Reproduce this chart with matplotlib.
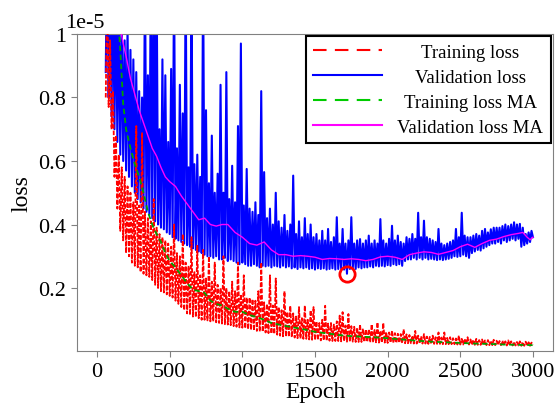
"""Training / validation loss curves with moving averages (loss in units of 1e-5)."""

import matplotlib as mpl

mpl.use("Agg")
import matplotlib.pyplot as plt
import numpy as np

# raw losses, one value every 10 epochs (60 .. 3000)
epochs = np.arange(60, 3001, 10)

train_loss = [
    0.80, 1.15, 0.77, 0.98, 0.70, 0.82, 0.55, 0.68, 0.45, 0.62,
    0.38, 0.58, 0.35, 0.55, 0.31, 0.52, 0.30, 0.50, 0.28, 0.47,
    0.27, 0.71, 0.265, 0.46, 0.25, 0.69, 0.245, 0.44, 0.24, 0.42,
    0.235, 0.41, 0.225, 0.48, 0.21, 0.39, 0.20, 0.37, 0.19, 0.36,
    0.186, 0.35, 0.18, 0.34, 0.175, 0.33, 0.17, 0.40, 0.16, 0.31,
    0.15, 0.30, 0.14, 0.37, 0.13, 0.28, 0.12, 0.27, 0.115, 0.36,
    0.11, 0.25, 0.108, 0.333, 0.105, 0.24, 0.10, 0.32, 0.10, 0.23,
    0.098, 0.30, 0.095, 0.22, 0.095, 0.28, 0.092, 0.21, 0.09, 0.20,
    0.088, 0.30, 0.086, 0.20, 0.085, 0.19, 0.083, 0.22, 0.08, 0.19,
    0.078, 0.28, 0.076, 0.18, 0.075, 0.24, 0.073, 0.17, 0.07, 0.17,
    0.068, 0.165, 0.066, 0.16, 0.065, 0.19, 0.063, 0.28, 0.062, 0.155,
    0.06, 0.15, 0.058, 0.24, 0.056, 0.145, 0.055, 0.23, 0.053, 0.14,
    0.05, 0.13, 0.048, 0.19, 0.047, 0.125, 0.046, 0.144, 0.045, 0.12,
    0.044, 0.11, 0.042, 0.14, 0.041, 0.105, 0.04, 0.145, 0.04, 0.10,
    0.038, 0.13, 0.037, 0.14, 0.036, 0.095, 0.036, 0.09, 0.035, 0.10,
    0.035, 0.144, 0.034, 0.088, 0.034, 0.09, 0.033, 0.085, 0.033, 0.095,
    0.033, 0.113, 0.032, 0.124, 0.032, 0.082, 0.031, 0.118, 0.031, 0.08,
    0.031, 0.078, 0.03, 0.075, 0.03, 0.085, 0.03, 0.072, 0.03, 0.07,
    0.03, 0.07, 0.029, 0.086, 0.029, 0.068, 0.029, 0.092, 0.028, 0.065,
    0.028, 0.09, 0.028, 0.062, 0.027, 0.06, 0.028, 0.066, 0.027, 0.058,
    0.027, 0.056, 0.027, 0.055, 0.026, 0.07, 0.026, 0.054, 0.026, 0.052,
    0.026, 0.05, 0.025, 0.065, 0.025, 0.05, 0.025, 0.048, 0.025, 0.055,
    0.025, 0.047, 0.024, 0.046, 0.024, 0.05, 0.024, 0.045, 0.024, 0.06,
    0.024, 0.044, 0.023, 0.06, 0.023, 0.043, 0.023, 0.045, 0.023, 0.042,
    0.023, 0.041, 0.022, 0.05, 0.022, 0.04, 0.022, 0.04, 0.022, 0.045,
    0.022, 0.038, 0.021, 0.037, 0.021, 0.04, 0.021, 0.036, 0.021, 0.038,
    0.021, 0.035, 0.02, 0.036, 0.02, 0.034, 0.02, 0.037, 0.02, 0.034,
    0.02, 0.033, 0.02, 0.034, 0.019, 0.032, 0.019, 0.035, 0.019, 0.032,
    0.019, 0.031, 0.019, 0.03, 0.019, 0.032, 0.018, 0.03, 0.018, 0.031,
    0.018, 0.029, 0.018, 0.028, 0.02,
]

val_loss = [
    0.88, 1.30, 0.80, 1.25, 0.74, 1.20, 0.70, 1.15, 0.66, 1.10,
    0.62, 1.05, 0.60, 0.98, 0.57, 1.02, 0.55, 0.95, 0.52, 0.92,
    0.50, 0.88, 0.48, 0.82, 0.47, 0.80, 0.45, 1.20, 0.44, 0.87,
    0.43, 1.20, 0.42, 1.20, 0.41, 1.20, 0.40, 0.70, 0.39, 0.92,
    0.385, 0.87, 0.375, 0.66, 0.37, 0.89, 0.36, 1.20, 0.355, 0.64,
    0.35, 0.84, 0.345, 0.75, 0.34, 1.20, 0.335, 0.58, 0.33, 1.20,
    0.325, 0.59, 0.32, 0.62, 0.315, 0.55, 0.31, 1.20, 0.305, 0.76,
    0.30, 0.53, 0.30, 0.68, 0.295, 0.50, 0.30, 0.56, 0.29, 0.84,
    0.29, 0.50, 0.295, 0.88, 0.285, 0.48, 0.29, 0.585, 0.285, 0.47,
    0.28, 0.71, 0.275, 0.97, 0.28, 0.46, 0.275, 0.575, 0.27, 0.45,
    0.27, 0.44, 0.275, 0.47, 0.27, 0.43, 0.265, 0.82, 0.27, 0.565,
    0.268, 0.42, 0.27, 0.45, 0.265, 0.40, 0.27, 0.50, 0.268, 0.41,
    0.265, 0.39, 0.27, 0.43, 0.265, 0.38, 0.268, 0.40, 0.262, 0.554,
    0.265, 0.37, 0.26, 0.41, 0.265, 0.36, 0.262, 0.42, 0.265, 0.37,
    0.26, 0.40, 0.262, 0.36, 0.258, 0.37, 0.262, 0.35, 0.26, 0.38,
    0.262, 0.35, 0.258, 0.386, 0.26, 0.345, 0.262, 0.36, 0.258, 0.423,
    0.26, 0.34, 0.262, 0.386, 0.258, 0.34, 0.245, 0.35, 0.26, 0.423,
    0.262, 0.34, 0.26, 0.35, 0.265, 0.354, 0.262, 0.34, 0.265, 0.35,
    0.265, 0.365, 0.268, 0.34, 0.265, 0.35, 0.27, 0.34, 0.268, 0.417,
    0.27, 0.35, 0.268, 0.34, 0.272, 0.355, 0.27, 0.396, 0.275, 0.35,
    0.272, 0.365, 0.275, 0.345, 0.27, 0.34, 0.285, 0.36, 0.29, 0.355,
    0.29, 0.37, 0.295, 0.355, 0.29, 0.437, 0.295, 0.36, 0.29, 0.412,
    0.295, 0.36, 0.29, 0.355, 0.292, 0.35, 0.29, 0.345, 0.288, 0.386,
    0.29, 0.34, 0.288, 0.335, 0.29, 0.34, 0.292, 0.345, 0.295, 0.35,
    0.30, 0.386, 0.298, 0.36, 0.30, 0.437, 0.305, 0.365, 0.30, 0.36,
    0.295, 0.36, 0.31, 0.365, 0.315, 0.37, 0.32, 0.365, 0.318, 0.38,
    0.325, 0.386, 0.33, 0.375, 0.335, 0.385, 0.34, 0.39, 0.34, 0.39,
    0.345, 0.39, 0.34, 0.395, 0.35, 0.40, 0.345, 0.395, 0.35, 0.40,
    0.355, 0.407, 0.35, 0.40, 0.355, 0.402, 0.33, 0.39, 0.335, 0.37,
    0.34, 0.375, 0.345, 0.38, 0.36,
]

# moving averages (read at coarser epochs)
train_ma_epochs = [150, 160, 180, 200, 230, 260, 290, 320, 350, 380,
                   410, 440, 470, 500, 540, 580, 620, 660, 700, 740,
                   780, 820, 860, 900, 950, 1000, 1050, 1100, 1150, 1200,
                   1250, 1300, 1400, 1500, 1600, 1700, 1800, 1900, 2000, 2100,
                   2200, 2300, 2400, 2500, 2600, 2700, 2800, 2900, 3000]
train_ma = [1.02, 0.95, 0.78, 0.70, 0.64, 0.59, 0.55, 0.50, 0.44, 0.40,
            0.37, 0.345, 0.31, 0.285, 0.265, 0.24, 0.215, 0.195, 0.19, 0.185,
            0.16, 0.15, 0.145, 0.135, 0.125, 0.125, 0.115, 0.108, 0.10, 0.09,
            0.085, 0.08, 0.072, 0.062, 0.056, 0.05, 0.047, 0.045, 0.042, 0.038,
            0.034, 0.031, 0.029, 0.027, 0.025, 0.024, 0.022, 0.021, 0.02]

val_ma_epochs = [160, 180, 200, 230, 260, 290, 320, 350, 380, 410,
                 440, 470, 500, 540, 580, 620, 660, 700, 740, 780,
                 820, 860, 900, 950, 1000, 1050, 1100, 1150, 1200, 1250,
                 1300, 1350, 1400, 1450, 1500, 1550, 1600, 1650, 1700, 1750,
                 1800, 1850, 1900, 1950, 2000, 2050, 2100, 2150, 2200, 2250,
                 2300, 2350, 2400, 2450, 2500, 2550, 2600, 2650, 2700, 2750,
                 2800, 2850, 2900, 2930, 2960, 2980, 3000]
val_ma = [1.02, 0.97, 0.93, 0.86, 0.81, 0.76, 0.72, 0.68, 0.64, 0.615,
          0.58, 0.55, 0.535, 0.52, 0.49, 0.465, 0.44, 0.415, 0.42, 0.40,
          0.395, 0.40, 0.40, 0.375, 0.36, 0.34, 0.335, 0.345, 0.32, 0.305,
          0.305, 0.30, 0.302, 0.30, 0.297, 0.29, 0.293, 0.292, 0.29, 0.292,
          0.29, 0.286, 0.29, 0.298, 0.30, 0.297, 0.29, 0.305, 0.31, 0.314,
          0.312, 0.306, 0.312, 0.318, 0.33, 0.338, 0.328, 0.34, 0.35, 0.354,
          0.362, 0.368, 0.372, 0.375, 0.36, 0.352, 0.36]

x_ticks = [0, 500, 1000, 1500, 2000, 2500, 3000]
y_ticks = [0.2, 0.4, 0.6, 0.8, 1.0]
y_tick_labels = ["0.2", "0.4", "0.6", "0.8", "1"]

plt.rcParams["font.family"] = ["Liberation Serif", "DejaVu Serif"]

fig = plt.figure(figsize=(5.55, 4.06), dpi=100)
ax = fig.add_axes([0.1387, 0.133, 0.8577, 0.7808])

l_val, = ax.plot(epochs, val_loss, color="blue", lw=1.5, zorder=2,
                 label="Validation loss")
l_tr, = ax.plot(epochs, train_loss, color="red", lw=1.3, ls=(0, (2.5, 1)),
                zorder=3, label="Training loss")
l_tma, = ax.plot(train_ma_epochs, train_ma, color="#00a000", lw=1.3,
                 ls=(0, (3, 2)), zorder=4, label="Training loss MA")
l_vma, = ax.plot(val_ma_epochs, val_ma, color="magenta", lw=1.0, zorder=5,
                 label="Validation loss MA")

# best validation epoch
i_best = int(np.argmin(val_loss))
ax.plot(epochs[i_best], val_loss[i_best], "o", ms=11, mfc="none", mec="red",
        mew=2, zorder=6)

ax.set_xlim(-138, 3138)
ax.set_ylim(0.0016, 1.0)
ax.set_xticks(x_ticks)
ax.set_yticks(y_ticks, labels=y_tick_labels)
ax.tick_params(labelsize=16, color="0.5", length=4, pad=4)
for s in ax.spines.values():
    s.set_color("0.5")
ax.set_xlabel("Epoch", fontsize=17, labelpad=0)
ax.set_ylabel("loss", fontsize=17)
ax.text(-0.025, 1.022, "1e-5", transform=ax.transAxes, fontsize=16,
        ha="left", va="baseline")

leg = ax.legend(handles=[l_tr, l_val, l_tma, l_vma], loc="upper right",
                fontsize=13.5, fancybox=False, edgecolor="black",
                framealpha=1, borderaxespad=0.12, handlelength=3.7,
                handletextpad=0.8, labelspacing=0.42, borderpad=0.4)
leg.get_frame().set_linewidth(1.5)
legend_colors = ["red", "blue", "#00cc00", "magenta"]
for hl, c in zip(leg.get_lines(), legend_colors):
    hl.set_linewidth(1.5)
    hl.set_color(c)
leg.get_lines()[0].set_linestyle((0, (6.5, 4)))
leg.get_lines()[2].set_linestyle((0, (6.5, 4)))

# centre the legend labels in their column
fig.canvas.draw()
renderer = fig.canvas.get_renderer()
texts = leg.get_texts()
widths = [t.get_window_extent(renderer).width for t in texts]
for t, w in zip(texts, widths):
    t.set_x((max(widths) - w) / 2)

fig.savefig("out.png", dpi=100)
